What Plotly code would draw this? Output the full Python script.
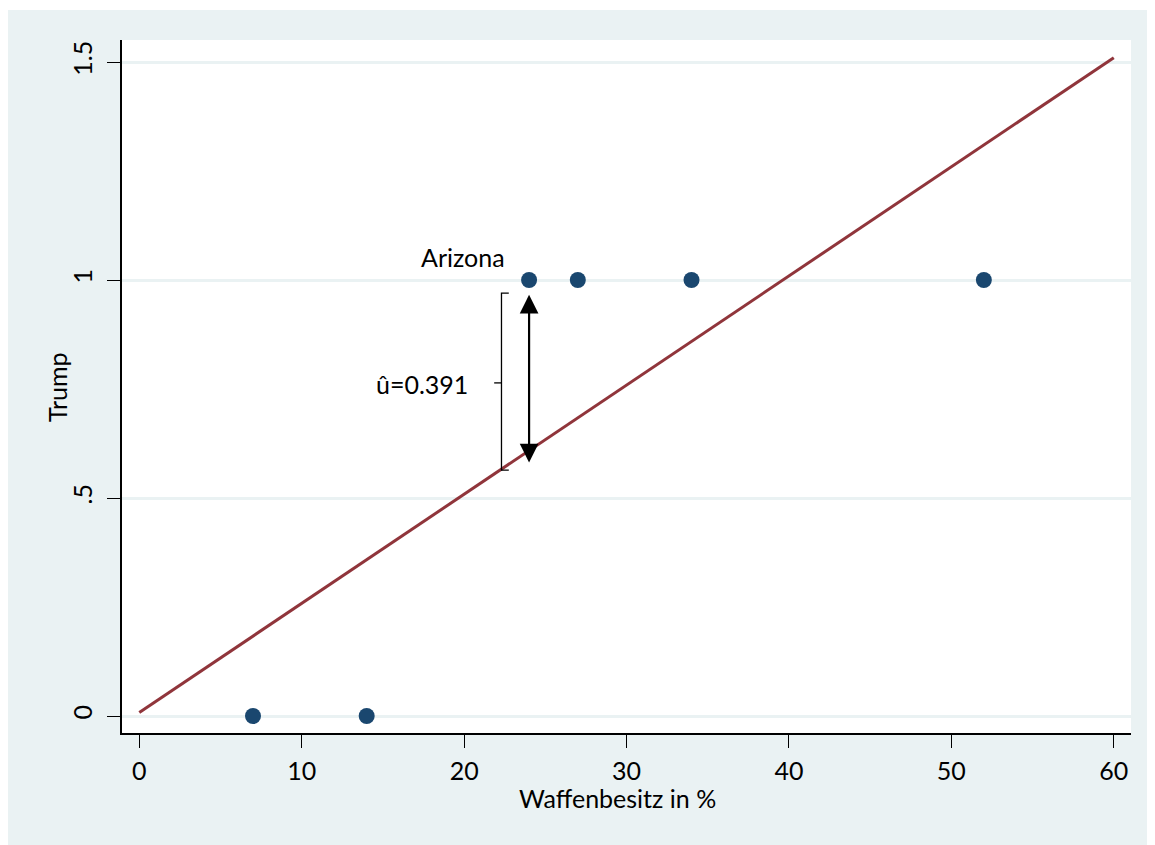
import plotly.graph_objects as go

# Data
gun_ownership = [7, 14, 24, 27, 34, 52]
trump = [0, 0, 1, 1, 1, 1]
fit_x = [0, 60]
fit_y = [0.008, 1.51]
x_ticks = [0, 10, 20, 30, 40, 50, 60]
y_ticks = [0, 0.5, 1, 1.5]
y_tick_labels = ["0", ".5", "1", "1.5"]

# Residual annotation (Arizona)
arrow_x = 24
arrow_top = 0.966
arrow_bottom = 0.578
bracket_x = [22.75, 22.3, 22.3, 22.75]
bracket_y = [0.970, 0.970, 0.564, 0.564]
bracket_mid_x = [22.3, 21.85]
bracket_mid_y = [0.764, 0.764]

BG = "#EAF2F3"
FONT = "Lato"
FS = 25
OFF = 8  # page offset of the figure (body margin)
W, H = 1147, 837
L, R, T, B = 114, 24, 32, 112
pw, ph = W - L - R, H - T - B

def px_x(p):
    """page pixel x -> paper coordinate"""
    return (p - OFF - L) / pw

def px_y(q):
    """page pixel y -> paper coordinate"""
    return (H - B - (q - OFF)) / ph

fig = go.Figure()

fig.add_trace(go.Scatter(x=fit_x, y=fit_y, mode="lines",
                         line=dict(color="#90353B", width=3),
                         hoverinfo="skip", showlegend=False))
fig.add_trace(go.Scatter(x=gun_ownership, y=trump, mode="markers",
                         marker=dict(color="#1A476F", size=16),
                         showlegend=False))
fig.add_trace(go.Scatter(x=bracket_x, y=bracket_y, mode="lines",
                         line=dict(color="black", width=1.3),
                         hoverinfo="skip", showlegend=False))
fig.add_trace(go.Scatter(x=bracket_mid_x, y=bracket_mid_y, mode="lines",
                         line=dict(color="black", width=1.3),
                         hoverinfo="skip", showlegend=False))

fig.add_annotation(x=arrow_x, y=arrow_top, ax=arrow_x, ay=arrow_bottom,
                   xref="x", yref="y", axref="x", ayref="y",
                   showarrow=True, arrowside="end+start", arrowhead=2,
                   arrowsize=1.7, arrowwidth=2.2, arrowcolor="black", text="")
fig.add_annotation(x=22.64, y=1.052, xref="x", yref="y", text="Arizona",
                   showarrow=False, xanchor="right", yanchor="middle",
                   font=dict(family=FONT, size=FS, color="black"))
fig.add_annotation(x=20.36, y=0.762, xref="x", yref="y", text="û=0.391",
                   showarrow=False, xanchor="right", yanchor="middle",
                   font=dict(family=FONT, size=FS, color="black"))
# axis titles
fig.add_annotation(x=px_x(617), y=px_y(798), xref="paper", yref="paper",
                   text="Waffenbesitz in %", showarrow=False,
                   xanchor="center", yanchor="middle",
                   font=dict(family=FONT, size=FS, color="black"))
fig.add_annotation(x=px_x(57), y=px_y(387), xref="paper", yref="paper",
                   text="Trump", showarrow=False, textangle=-90,
                   xanchor="center", yanchor="middle",
                   font=dict(family=FONT, size=FS, color="black"))

# white strip above the grey frame background
fig.add_shape(type="rect", xref="paper", yref="paper",
              x0=px_x(0), x1=px_x(1200), y0=px_y(10), y1=px_y(0),
              fillcolor="white", line_width=0, layer="above")

fig.update_layout(
    width=W, height=H,
    margin=dict(l=L, r=R, t=T, b=B),
    paper_bgcolor=BG, plot_bgcolor="white",
    font=dict(family=FONT, size=FS, color="black"),
    showlegend=False,
)
fig.update_xaxes(range=[-1.065, 61.06], tickvals=x_ticks,
                 showgrid=False, zeroline=False,
                 showline=True, linecolor="black", linewidth=1.5,
                 ticks="outside", ticklen=13, tickwidth=1.3, tickcolor="black",
                 ticklabelstandoff=2)
fig.update_yaxes(range=[-0.039, 1.5505], tickvals=y_ticks, ticktext=y_tick_labels,
                 tickangle=-90,
                 showgrid=True, gridcolor=BG, gridwidth=2.5, zeroline=False,
                 showline=True, linecolor="black", linewidth=1.5,
                 ticks="outside", ticklen=13, tickwidth=1.3, tickcolor="black",
                 ticklabelstandoff=5)

fig.write_html("out.html")
